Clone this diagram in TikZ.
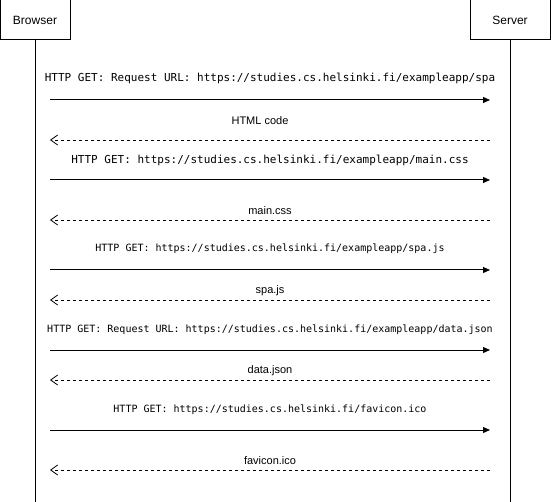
\documentclass[tikz,border=0pt]{standalone}
\usepackage{fontspec}
\setmainfont{Liberation Sans}
\newfontfamily\urlfont{DejaVu Sans Mono}
\usetikzlibrary{arrows.meta}
\tikzset{
  req/.style={-{Triangle[length=7pt,width=6pt]}, line width=1pt, draw=black},
  resp/.style={-{Straight Barb[length=7pt,width=10pt]}, line width=0.8pt, draw=black,
    dash pattern=on 3pt off 3pt},
  actor/.style={draw=black, line width=1pt, fill=white, minimum height=40pt, inner sep=0pt,
    font=\fontsize{12pt}{14pt}\selectfont},
  life/.style={line width=1pt, draw=black},
  reqlab/.style={font=\urlfont\fontsize{10pt}{12pt}\selectfont, inner sep=0pt},
  bigreqlab/.style={font=\urlfont\fontsize{11pt}{13pt}\selectfont, inner sep=0pt},
  resplab/.style={font=\fontsize{11pt}{13pt}\selectfont, inner sep=0pt}
}
\begin{document}
\begin{tikzpicture}[x=1pt, y=-1pt]
  \useasboundingbox (0,0) rectangle (551,502);
  % participants
  \node[actor, minimum width=70pt] (br) at (35,20) {Browser};
  \node[actor, minimum width=80pt] (sv) at (510,20) {Server};
  \coordinate (brend) at (35,502);
  \coordinate (svend) at (510,502);
  \draw[life] (br.south) -- (brend);
  \draw[life] (sv.south) -- (svend);
  % message ends
  \coordinate (b1) at (50,100);  \coordinate (s1) at (490,100);
  \coordinate (b2) at (50,140);  \coordinate (s2) at (490,140);
  \coordinate (b3) at (50,180);  \coordinate (s3) at (490,180);
  \coordinate (b4) at (50,220);  \coordinate (s4) at (490,220);
  \coordinate (b5) at (50,270);  \coordinate (s5) at (490,270);
  \coordinate (b6) at (50,300);  \coordinate (s6) at (490,300);
  \coordinate (b7) at (50,350);  \coordinate (s7) at (490,350);
  \coordinate (b8) at (50,380);  \coordinate (s8) at (490,380);
  \coordinate (b9) at (50,430);  \coordinate (s9) at (490,430);
  \coordinate (b10) at (50,470); \coordinate (s10) at (490,470);
  % messages
  \node[bigreqlab] (m1) at (270,78) {HTTP GET: Request URL: https://studies.cs.helsinki.fi/exampleapp/spa};
  \draw[req] (b1) -- (s1);
  \node[resplab] (m2) at (260,121) {HTML code};
  \draw[resp] (s2) -- (b2);
  \node[bigreqlab] (m3) at (270,160) {HTTP GET: https://studies.cs.helsinki.fi/exampleapp/main.css};
  \draw[req] (b3) -- (s3);
  \node[resplab] (m4) at (270,211) {main.css};
  \draw[resp] (s4) -- (b4);
  \node[reqlab] (m5) at (270,249) {HTTP GET: https://studies.cs.helsinki.fi/exampleapp/spa.js};
  \draw[req] (b5) -- (s5);
  \node[resplab] (m6) at (270,291) {spa.js};
  \draw[resp] (s6) -- (b6);
  \node[reqlab] (m7) at (270,330) {HTTP GET: Request URL: https://studies.cs.helsinki.fi/exampleapp/data.json};
  \draw[req] (b7) -- (s7);
  \node[resplab] (m8) at (270,371) {data.json};
  \draw[resp] (s8) -- (b8);
  \node[reqlab] (m9) at (270,410) {HTTP GET: https://studies.cs.helsinki.fi/favicon.ico};
  \draw[req] (b9) -- (s9);
  \node[resplab] (m10) at (270,461) {favicon.ico};
  \draw[resp] (s10) -- (b10);
\end{tikzpicture}
\end{document}
